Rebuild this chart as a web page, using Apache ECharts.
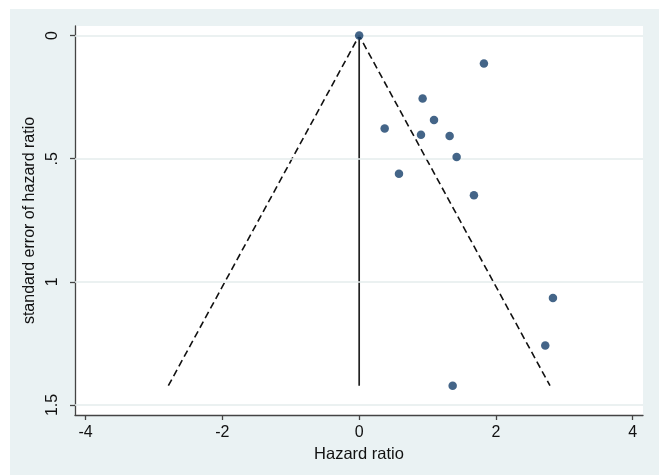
<!DOCTYPE html>
<html>
<head>
<meta charset="utf-8">
<script src="https://cdn.jsdelivr.net/npm/echarts@6/dist/echarts.min.js"></script>
<style>
html,body{margin:0;padding:0;background:#fff;}
#chart{width:659px;height:475px;}
</style>
</head>
<body>
<div id="chart"></div>
<script>
// Study points: hazard ratio (x) and its standard error (y)
var hazardRatio = [0, 1.824, 0.928, 1.094, 0.373, 0.904, 1.323, 1.425, 0.582, 1.678, 2.833, 2.721, 1.367];
var stdError    = [0, 0.113, 0.255, 0.343, 0.377, 0.403, 0.408, 0.493, 0.561, 0.648, 1.066, 1.259, 1.422];

// Funnel (pseudo confidence limits) and centre line
var funnelX = [-2.79, 0, 2.79];
var funnelY = [1.422, 0, 1.422];
var centerX = [0, 0];
var centerY = [0, 1.422];

// Tick values and labels
var xTicks = [-4, -2, 0, 2, 4];
var xTickLabels = ['-4', '-2', '0', '2', '4'];
var yTicks = [0, 0.5, 1, 1.5];
var yTickLabels = ['0', '.5', '1', '1.5'];

function zip(a, b) { return a.map(function (v, i) { return [v, b[i]]; }); }
var xLabelMap = {}; xTicks.forEach(function (v, i) { xLabelMap[v] = xTickLabels[i]; });
var yLabelMap = {}; yTicks.forEach(function (v, i) { yLabelMap[v] = yTickLabels[i]; });

var chart = echarts.init(document.getElementById('chart'), null, {renderer: 'canvas'});
var font = '"Liberation Sans", Arial, sans-serif';

chart.setOption({
  animation: false,
  backgroundColor: '#ffffff',
  graphic: [{
    type: 'rect', z: -100, silent: true,
    shape: {x: 10, y: 9, width: 649, height: 466},
    style: {fill: '#eaf2f3'}
  }],
  grid: {
    left: 75, top: 26, width: 568, height: 389,
    show: true, backgroundColor: '#ffffff', borderWidth: 0
  },
  xAxis: {
    type: 'value', min: -4.155, max: 4.15,
    name: 'Hazard ratio', nameLocation: 'middle', nameGap: 23,
    nameTextStyle: {fontFamily: font, fontSize: 16.5, color: '#111'},
    axisLine: {show: true, onZero: false, lineStyle: {color: '#444', width: 1.3}},
    axisTick: {show: true, length: 5, customValues: xTicks, lineStyle: {color: '#444', width: 1.3}},
    axisLabel: {
      show: true, customValues: xTicks, margin: 10,
      fontFamily: font, fontSize: 16, color: '#111',
      formatter: function (v) { return xLabelMap[v] !== undefined ? xLabelMap[v] : ''; }
    },
    splitLine: {show: false}
  },
  yAxis: {
    type: 'value', inverse: true, min: -0.039, max: 1.541,
    name: 'standard error of hazard ratio', nameLocation: 'middle', nameGap: 36, nameRotate: 90,
    nameTextStyle: {fontFamily: font, fontSize: 16, color: '#111'},
    axisLine: {show: true, onZero: false, lineStyle: {color: '#444', width: 1.3}},
    axisTick: {show: true, length: 5, customValues: yTicks, lineStyle: {color: '#444', width: 1.3}},
    axisLabel: {
      show: true, customValues: yTicks, rotate: 90, margin: 14,
      fontFamily: font, fontSize: 16, color: '#111',
      formatter: function (v) { return yLabelMap[v] !== undefined ? yLabelMap[v] : ''; }
    },
    splitLine: {show: false}
  },
  series: [
    {
      type: 'line', name: 'grid', data: [], silent: true,
      markLine: {
        silent: true, symbol: 'none', label: {show: false}, animation: false,
        lineStyle: {color: '#e4eded', width: 1.6, type: 'solid'},
        data: yTicks.map(function (v) { return {yAxis: v}; })
      }
    },
    {
      type: 'line', name: 'funnel', data: zip(funnelX, funnelY), silent: true,
      symbol: 'none', lineStyle: {color: '#111', width: 1.6, type: [7, 4]}, z: 3
    },
    {
      type: 'line', name: 'center', data: zip(centerX, centerY), silent: true,
      symbol: 'none', lineStyle: {color: '#222', width: 1.7, type: 'solid'}, z: 3
    },
    {
      type: 'scatter', name: 'studies', data: zip(hazardRatio, stdError),
      symbol: 'circle', symbolSize: 8.5, itemStyle: {color: '#153f6a'}, z: 5
    }
  ]
});
</script>
</body>
</html>
